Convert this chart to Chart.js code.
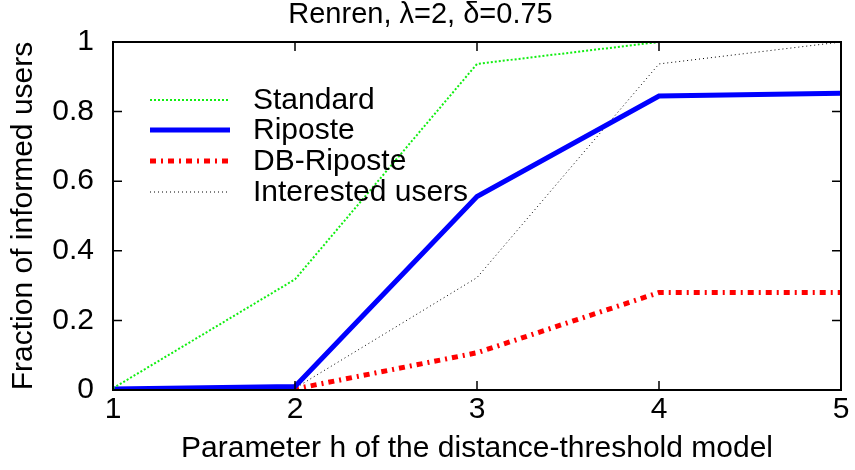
<!DOCTYPE html>
<html>
<head>
<meta charset="utf-8">
<script src="https://cdn.jsdelivr.net/npm/chart.js@4"></script>
<style>
  html, body { margin: 0; padding: 0; background: #fff; }
  #wrap { width: 855px; height: 470px; }
</style>
</head>
<body>
<div id="wrap"><canvas id="c" width="855" height="470"></canvas></div>
<script>
const hValues = [1, 2, 3, 4, 5];
const standard = [0.005, 0.318, 0.937, 1.0, 1.0];
const riposte = [0.003, 0.01, 0.556, 0.845, 0.853];
const dbRiposte = [0.0, 0.003, 0.107, 0.28, 0.28];
const interested = [0.0, 0.005, 0.323, 0.937, 1.0];
const yTicks = [0, 0.2, 0.4, 0.6, 0.8, 1];

const FONT = 'Liberation Sans, Arial, Helvetica, sans-serif';

function pts(arr) {
  return hValues.map((h, i) => ({ x: h, y: arr[i] }));
}

// inner ticks on all four sides + frame, like gnuplot
const framePlugin = {
  id: 'frame',
  afterDatasetsDraw(chart) {
    const { ctx, chartArea: a, scales } = chart;
    ctx.save();
    ctx.strokeStyle = '#000';
    ctx.lineWidth = 2;
    ctx.strokeRect(a.left, a.top, a.right - a.left, a.bottom - a.top);
    ctx.lineWidth = 1.5;
    const len = 9;
    hValues.forEach(v => {
      const px = scales.x.getPixelForValue(v);
      ctx.beginPath();
      ctx.moveTo(px, a.bottom); ctx.lineTo(px, a.bottom - len);
      ctx.moveTo(px, a.top); ctx.lineTo(px, a.top + len);
      ctx.stroke();
    });
    yTicks.forEach(v => {
      const py = scales.y.getPixelForValue(v);
      ctx.beginPath();
      ctx.moveTo(a.left, py); ctx.lineTo(a.left + len, py);
      ctx.moveTo(a.right, py); ctx.lineTo(a.right - len, py);
      ctx.stroke();
    });
    ctx.restore();
  }
};

// gnuplot-style key inside the plot
const keyPlugin = {
  id: 'key',
  afterDatasetsDraw(chart) {
    const { ctx } = chart;
    const rows = [100, 130, 161, 192];
    ctx.save();
    ctx.font = '30px ' + FONT;
    ctx.textBaseline = 'middle';
    chart.data.datasets.forEach((ds, i) => {
      const y = rows[i];
      ctx.strokeStyle = ds.borderColor;
      ctx.lineWidth = ds.borderWidth;
      ctx.setLineDash(ds.borderDash || []);
      ctx.beginPath();
      ctx.moveTo(150, y); ctx.lineTo(230, y);
      ctx.stroke();
      ctx.setLineDash([]);
      ctx.fillStyle = '#000';
      ctx.fillText(ds.label, 253, y + 1);
    });
    ctx.restore();
  }
};

new Chart(document.getElementById('c'), {
  type: 'line',
  data: {
    datasets: [
      {
        label: 'Standard',
        data: pts(standard),
        borderColor: '#11ee11',
        borderWidth: 2,
        borderDash: [2, 2],
        pointRadius: 0,
        tension: 0
      },
      {
        label: 'Riposte',
        data: pts(riposte),
        borderColor: '#0000ff',
        borderWidth: 5,
        pointRadius: 0,
        tension: 0
      },
      {
        label: 'DB-Riposte',
        data: pts(dbRiposte),
        borderColor: '#ff0000',
        borderWidth: 5,
        borderDash: [6, 5, 2, 5],
        pointRadius: 0,
        tension: 0
      },
      {
        label: 'Interested users',
        data: pts(interested),
        borderColor: '#000000',
        borderWidth: 1,
        borderDash: [1, 3],
        pointRadius: 0,
        tension: 0
      }
    ]
  },
  options: {
    responsive: false,
    animation: false,
    layout: { padding: { left: 0, right: 14, top: 0, bottom: 0 } },
    plugins: {
      legend: { display: false },
      tooltip: { enabled: false },
      title: {
        display: true,
        text: 'Renren, λ=2, δ=0.75',
        color: '#000',
        font: { size: 29, family: FONT, weight: 'normal', lineHeight: 1 },
        padding: { top: 0, bottom: 13 }
      }
    },
    scales: {
      x: {
        type: 'linear',
        min: 1,
        max: 5,
        ticks: { stepSize: 1, color: '#000', font: { size: 30, family: FONT }, padding: 2 },
        grid: { display: false, drawTicks: false },
        border: { display: false },
        title: {
          display: true,
          text: 'Parameter h of the distance-threshold model',
          color: '#000',
          font: { size: 30, family: FONT },
          padding: { top: 0, bottom: 3 }
        },
        afterFit(s) { s.height = 80; }
      },
      y: {
        min: 0,
        max: 1,
        afterBuildTicks(s) { s.ticks = yTicks.map(v => ({ value: v })); },
        ticks: {
          color: '#000',
          font: { size: 30, family: FONT },
          padding: 19,
          callback: v => String(+v.toFixed(1))
        },
        grid: { display: false, drawTicks: false },
        border: { display: false },
        title: {
          display: true,
          text: 'Fraction of informed users',
          color: '#000',
          font: { size: 30, family: FONT },
          padding: { top: 6, bottom: 0 }
        },
        afterFit(s) { s.width = 113; }
      }
    }
  },
  plugins: [framePlugin, keyPlugin]
});
</script>
</body>
</html>
